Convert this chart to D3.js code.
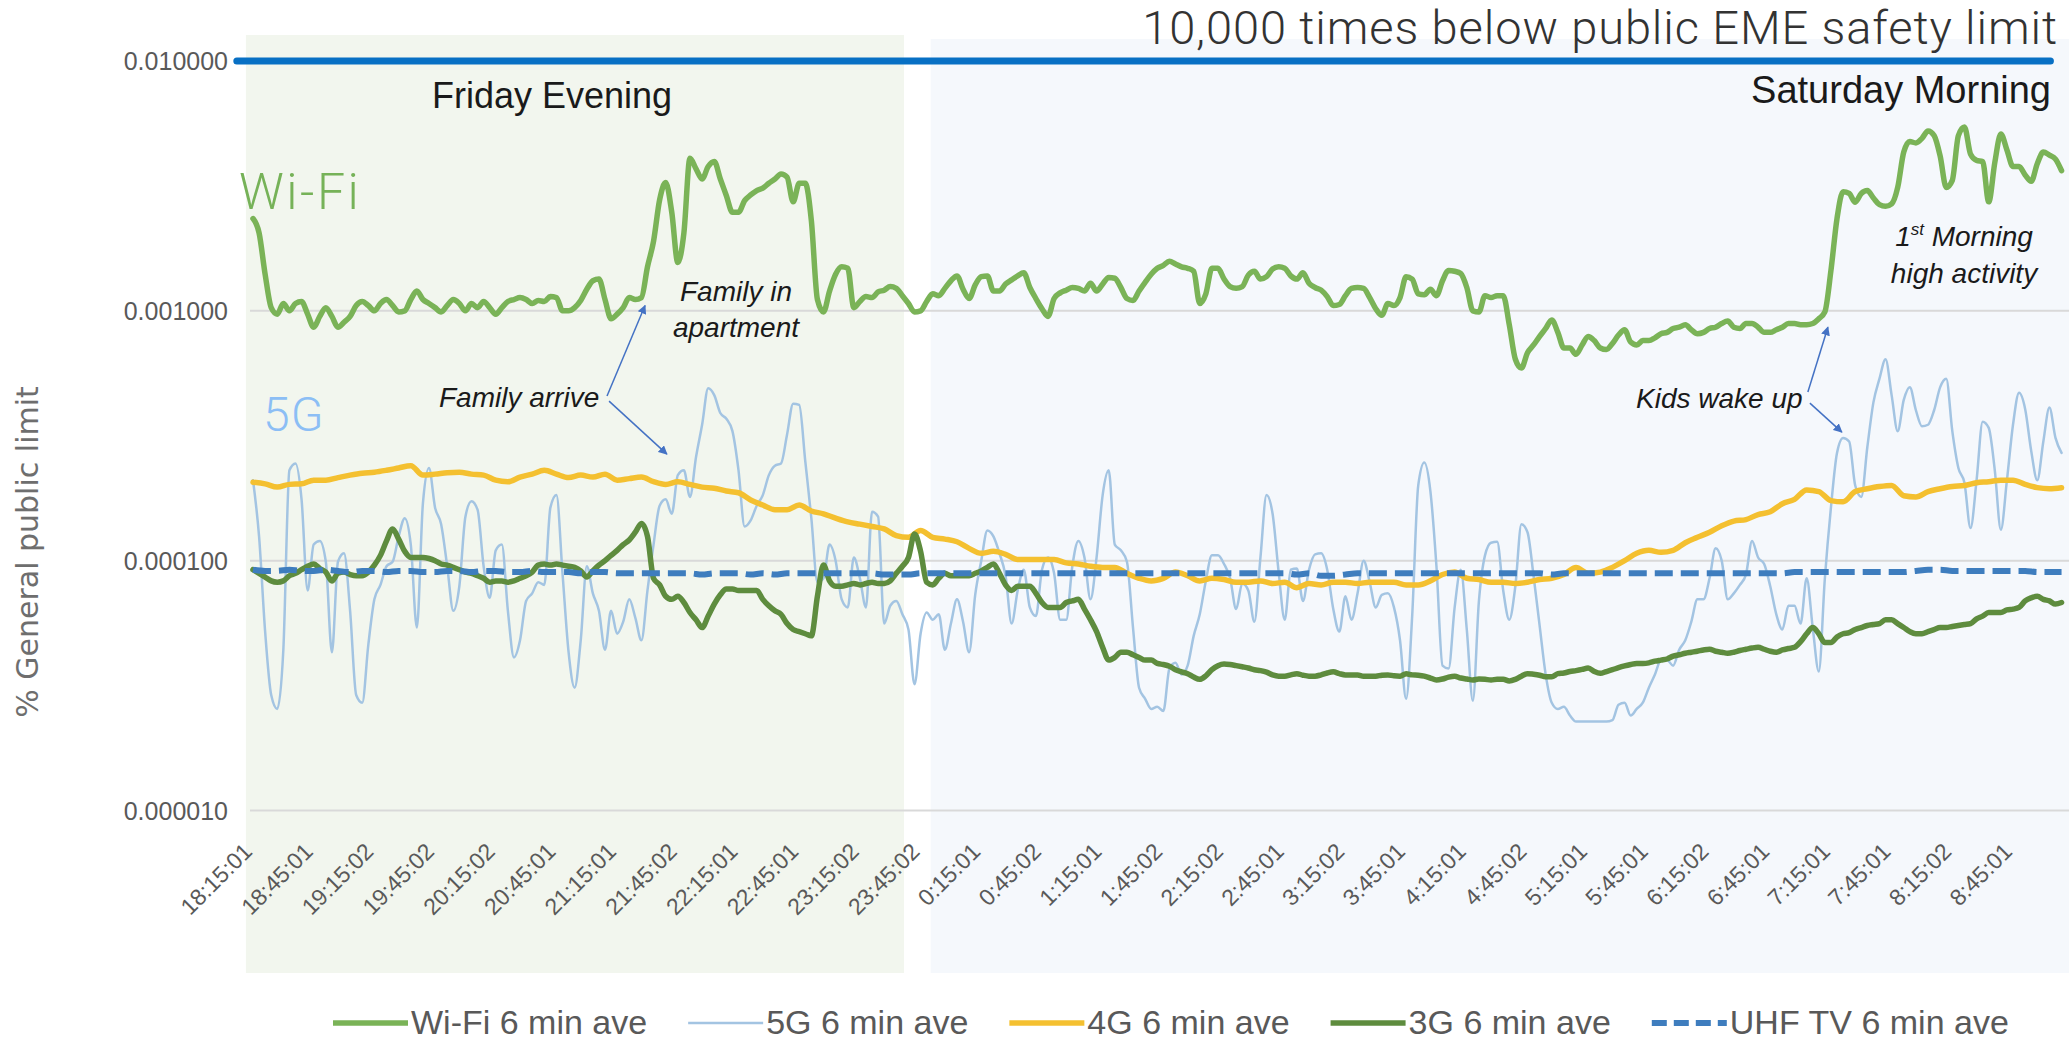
<!DOCTYPE html>
<html><head><meta charset="utf-8">
<script src="https://cdn.jsdelivr.net/npm/d3@7"></script>
<style>
html,body{margin:0;padding:0;background:#fff;}
svg{display:block;}
</style></head><body>
<svg id="chart" width="2069" height="1040"></svg>
<script>
// ---------------- DATA ----------------
// minutes after 18:15:01 between consecutive samples
const STEP_FINE = 3;
const STEP_COARSE = 6;

const xTickLabels = ["18:15:01","18:45:01","19:15:02","19:45:02","20:15:02","20:45:01","21:15:01","21:45:02",
  "22:15:01","22:45:01","23:15:02","23:45:02","0:15:01","0:45:02","1:15:01","1:45:02","2:15:02","2:45:01",
  "3:15:02","3:45:01","4:15:01","4:45:02","5:15:01","5:45:01","6:15:02","6:45:01","7:15:01","7:45:01",
  "8:15:02","8:45:01"];
const xTickMinutes = d3.range(0, 871, 30);

const yTickValues = [0.00001, 0.0001, 0.001, 0.01];
const safetyLimit = 0.01;

// Wi-Fi, % of general public limit, every 3 min
const wifi = [
 2.34e-3,2.05e-3,1.4e-3,1.03e-3,0.97e-3,1.07e-3,1.0e-3,1.07e-3,1.09e-3,0.97e-3,
 0.86e-3,0.95e-3,1.03e-3,0.95e-3,0.86e-3,0.90e-3,0.95e-3,1.05e-3,1.09e-3,1.05e-3,
 1.0e-3,1.07e-3,1.11e-3,1.05e-3,0.99e-3,1.0e-3,1.11e-3,1.2e-3,1.11e-3,1.07e-3,
 1.03e-3,0.99e-3,1.05e-3,1.11e-3,1.07e-3,1.0e-3,1.07e-3,1.03e-3,1.09e-3,1.03e-3,
 0.97e-3,1.03e-3,1.09e-3,1.11e-3,1.13e-3,1.11e-3,1.07e-3,1.1e-3,1.09e-3,
 1.14e-3,1.13e-3,1.0e-3,1.0e-3,1.03e-3,1.1e-3,1.22e-3,1.32e-3,1.34e-3,1.11e-3,
 0.93e-3,0.97e-3,1.03e-3,1.13e-3,1.11e-3,1.13e-3,1.5e-3,1.9e-3,2.78e-3,3.26e-3,
 2.48e-3,1.56e-3,2.05e-3,4.08e-3,3.7e-3,3.37e-3,3.78e-3,3.96e-3,3.37e-3,2.89e-3,
 2.48e-3,2.48e-3,2.76e-3,2.91e-3,3.03e-3,3.1e-3,3.24e-3,3.37e-3,3.53e-3,3.43e-3,
 2.73e-3,3.24e-3,3.24e-3,2.3e-3,1.11e-3,0.99e-3,1.2e-3,1.4e-3,1.5e-3,1.48e-3,
 1.03e-3,1.09e-3,1.14e-3,1.13e-3,1.19e-3,1.21e-3,1.25e-3,1.23e-3,1.15e-3,1.07e-3,
 0.99e-3,1.0e-3,1.09e-3,1.17e-3,1.15e-3,1.23e-3,1.32e-3,1.38e-3,1.22e-3,1.12e-3,
 1.27e-3,1.37e-3,1.38e-3,1.2e-3,1.2e-3,1.28e-3,1.33e-3,1.38e-3,1.42e-3,1.24e-3,
 1.12e-3,1.02e-3,0.95e-3,1.12e-3,1.18e-3,1.21e-3,1.24e-3,1.23e-3,1.2e-3,1.29e-3,
 1.2e-3,1.28e-3,1.36e-3,1.35e-3,1.24e-3,1.12e-3,1.1e-3,1.2e-3,1.3e-3,1.4e-3,
 1.48e-3,1.52e-3,1.58e-3,1.54e-3,1.5e-3,1.48e-3,1.44e-3,1.07e-3,1.17e-3,1.48e-3,
 1.48e-3,1.34e-3,1.25e-3,1.23e-3,1.25e-3,1.39e-3,1.44e-3,1.34e-3,1.37e-3,1.47e-3,
 1.5e-3,1.48e-3,1.38e-3,1.34e-3,1.42e-3,1.29e-3,1.24e-3,1.21e-3,1.14e-3,1.05e-3,
 1.06e-3,1.15e-3,1.23e-3,1.24e-3,1.23e-3,1.13e-3,1.02e-3,0.96e-3,1.07e-3,1.05e-3,
 1.13e-3,1.37e-3,1.34e-3,1.17e-3,1.16e-3,1.22e-3,1.15e-3,1.32e-3,1.45e-3,1.44e-3,
 1.41e-3,1.24e-3,1.0e-3,0.99e-3,1.15e-3,1.13e-3,1.15e-3,1.15e-3,0.88e-3,0.64e-3,
 0.59e-3,0.68e-3,0.73e-3,0.79e-3,0.85e-3,0.92e-3,0.82e-3,0.71e-3,0.71e-3,0.67e-3,
 0.73e-3,0.79e-3,0.76e-3,0.71e-3,0.70e-3,0.74e-3,0.8e-3,0.84e-3,0.75e-3,0.73e-3,
 0.76e-3,0.76e-3,0.78e-3,0.81e-3,0.82e-3,0.85e-3,0.86e-3,0.88e-3,0.84e-3,0.81e-3,
 0.82e-3,0.85e-3,0.86e-3,0.89e-3,0.91e-3,0.86e-3,0.85e-3,0.89e-3,0.89e-3,0.86e-3,
 0.82e-3,
 0.82e-3,0.84e-3,0.86e-3,0.89e-3,0.89e-3,0.88e-3,0.88e-3,0.89e-3,0.93e-3,0.99e-3,
 1.45e-3,2.34e-3,3.0e-3,2.95e-3,2.72e-3,2.95e-3,3.03e-3,2.83e-3,2.66e-3,2.62e-3,
 2.68e-3,3.12e-3,4.32e-3,4.76e-3,4.7e-3,4.9e-3,5.25e-3,5.03e-3,4.16e-3,3.12e-3,
 3.33e-3,5.03e-3,5.44e-3,4.24e-3,4.0e-3,3.96e-3,2.73e-3,3.92e-3,5.1e-3,4.4e-3,
 3.78e-3,3.78e-3,3.5e-3,3.3e-3,3.88e-3,4.32e-3,4.2e-3,4.05e-3,3.64e-3
];

// 5G, every 3 min
const g5 = [
 2.1e-4,1.25e-4,5.2e-5,2.9e-5,2.55e-5,4.4e-5,2.3e-4,2.45e-4,1.76e-4,7.6e-5,
 1.16e-4,1.2e-4,9.9e-5,4.3e-5,9.9e-5,1.07e-4,6.3e-5,2.9e-5,2.7e-5,4.6e-5,
 7.0e-5,8.0e-5,9.5e-5,9.9e-5,1.25e-4,1.48e-4,1.16e-4,5.4e-5,1.7e-4,2.35e-4,
 1.63e-4,1.4e-4,9.5e-5,6.3e-5,7.9e-5,1.5e-4,1.73e-4,1.6e-4,9.5e-5,7.1e-5,
 1.1e-4,1.16e-4,6.3e-5,4.1e-5,4.8e-5,6.9e-5,7.4e-5,8.2e-5,8.0e-5,
 1.63e-4,1.83e-4,8.9e-5,4.3e-5,3.1e-5,4.8e-5,9.5e-5,7.4e-5,6.3e-5,4.4e-5,
 6.3e-5,5.1e-5,5.7e-5,7.0e-5,5.9e-5,4.8e-5,7.6e-5,1.16e-4,1.66e-4,1.76e-4,
 1.54e-4,2.2e-4,2.3e-4,1.8e-4,2.6e-4,3.5e-4,4.9e-4,4.6e-4,3.9e-4,3.7e-4,
 3.3e-4,2.3e-4,1.37e-4,1.45e-4,1.66e-4,1.83e-4,2.2e-4,2.4e-4,2.45e-4,3.2e-4,
 4.25e-4,4.2e-4,2.5e-4,1.48e-4,8.2e-5,8.5e-5,1.16e-4,1.0e-4,7.0e-5,6.5e-5,
 1.03e-4,8.5e-5,6.5e-5,1.57e-4,1.5e-4,5.6e-5,6.6e-5,6.9e-5,6.1e-5,5.3e-5,
 3.2e-5,5.1e-5,6.2e-5,5.8e-5,6.1e-5,4.4e-5,5.6e-5,7.0e-5,5.7e-5,4.3e-5,
 7.3e-5,1.0e-4,1.32e-4,1.25e-4,1.07e-4,8.7e-5,5.6e-5,7.6e-5,9.2e-5,6.5e-5,
 6.0e-5,9.2e-5,1.03e-4,8.9e-5,5.8e-5,5.8e-5,9.5e-5,1.2e-4,1.03e-4,7.0e-5,
 1.03e-4,1.83e-4,2.3e-4,1.16e-4,1.1e-4,9.9e-5,5.4e-5,3.1e-5,2.8e-5,2.55e-5,
 2.6e-5,2.5e-5,3.7e-5,3.9e-5,3.5e-5,3.8e-5,5.0e-5,6.1e-5,8.3e-5,1.05e-4,
 1.05e-4,9.7e-5,8.5e-5,6.4e-5,8.1e-5,7.6e-5,5.7e-5,1.03e-4,1.83e-4,1.54e-4,
 9.0e-5,5.8e-5,9.2e-5,9.3e-5,6.9e-5,9.2e-5,1.06e-4,1.07e-4,9.2e-5,6.4e-5,
 5.2e-5,7.2e-5,5.8e-5,7.4e-5,1.0e-4,8.2e-5,6.5e-5,7.3e-5,7.4e-5,6.5e-5,
 4.8e-5,2.8e-5,6.0e-5,2.0e-4,2.47e-4,1.9e-4,9.5e-5,3.8e-5,3.7e-5,6.5e-5,
 9.2e-5,5.3e-5,2.75e-5,6.9e-5,1.05e-4,1.18e-4,1.19e-4,7.6e-5,5.8e-5,7.9e-5,
 1.4e-4,1.3e-4,8.7e-5,5.5e-5,3.5e-5,2.7e-5,2.55e-5,2.6e-5,2.4e-5,2.27e-5,
 2.27e-5,2.27e-5,2.27e-5,2.27e-5,2.27e-5,2.3e-5,2.65e-5,2.7e-5,2.4e-5,2.55e-5,
 2.7e-5,3.1e-5,3.5e-5,4.0e-5,4.0e-5,3.8e-5,4.4e-5,4.8e-5,5.7e-5,7.0e-5,
 7.0e-5,8.5e-5,1.12e-4,1.0e-4,7.0e-5,7.4e-5,8.0e-5,8.8e-5,1.2e-4,1.03e-4,
 9.7e-5,
 7.9e-5,6.1e-5,5.3e-5,6.6e-5,6.6e-5,5.6e-5,8.5e-5,5.4e-5,3.6e-5,8.5e-5,
 1.63e-4,2.7e-4,3.1e-4,3.0e-4,2.0e-4,1.8e-4,2.85e-4,4.3e-4,5.35e-4,6.4e-4,
 4.6e-4,3.3e-4,4.4e-4,4.95e-4,4.0e-4,3.45e-4,3.5e-4,4.0e-4,4.95e-4,5.35e-4,
 3.3e-4,2.35e-4,2.05e-4,1.35e-4,2.1e-4,3.6e-4,3.4e-4,2.3e-4,1.33e-4,2.1e-4,
 3.5e-4,4.7e-4,4.05e-4,2.75e-4,2.1e-4,3.0e-4,4.1e-4,3.1e-4,2.7e-4
];

// 4G, every 6 min
const g4 = [
 2.06e-4,2.03e-4,1.97e-4,2.02e-4,2.03e-4,2.1e-4,2.1e-4,2.15e-4,2.2e-4,2.24e-4,
 2.26e-4,2.3e-4,2.35e-4,2.4e-4,2.2e-4,2.22e-4,2.25e-4,2.26e-4,2.22e-4,2.2e-4,
 2.1e-4,2.07e-4,2.16e-4,2.22e-4,2.3e-4,
 2.22e-4,2.15e-4,2.2e-4,2.16e-4,2.22e-4,2.1e-4,2.13e-4,2.16e-4,2.07e-4,2.02e-4,
 2.07e-4,2.02e-4,1.97e-4,1.95e-4,1.9e-4,1.87e-4,1.75e-4,1.67e-4,1.6e-4,1.6e-4,
 1.67e-4,1.58e-4,1.54e-4,1.48e-4,1.43e-4,
 1.4e-4,1.37e-4,1.34e-4,1.26e-4,1.24e-4,1.32e-4,1.24e-4,1.22e-4,1.19e-4,1.12e-4,
 1.07e-4,1.09e-4,1.06e-4,1.01e-4,1.01e-4,1.01e-4,1.01e-4,9.8e-5,9.7e-5,9.5e-5,
 9.4e-5,9.4e-5,8.9e-5,8.5e-5,8.3e-5,
 8.5e-5,9.0e-5,8.7e-5,8.3e-5,8.5e-5,8.4e-5,8.2e-5,8.2e-5,8.3e-5,8.1e-5,
 8.2e-5,7.8e-5,8.1e-5,8.0e-5,8.2e-5,8.2e-5,8.1e-5,8.2e-5,8.2e-5,8.2e-5,
 8.0e-5,8.0e-5,8.3e-5,8.8e-5,9.0e-5,
 8.5e-5,8.4e-5,8.2e-5,8.2e-5,8.1e-5,8.2e-5,8.4e-5,8.5e-5,8.8e-5,9.4e-5,
 8.9e-5,9.0e-5,9.4e-5,1.0e-4,1.07e-4,1.1e-4,1.08e-4,1.1e-4,1.18e-4,1.24e-4,
 1.3e-4,1.38e-4,1.44e-4,1.46e-4,1.53e-4,
 1.57e-4,1.69e-4,1.76e-4,1.92e-4,1.89e-4,1.74e-4,1.72e-4,1.89e-4,1.94e-4,1.98e-4,
 2.0e-4,1.82e-4,1.8e-4,1.89e-4,1.94e-4,1.98e-4,2.0e-4,2.05e-4,2.07e-4,2.1e-4,
 2.1e-4,2.02e-4,1.96e-4,1.94e-4,1.96e-4
];

// 3G, every 3 min
const g3 = [
 9.2e-5,8.9e-5,8.6e-5,8.3e-5,8.2e-5,8.3e-5,8.7e-5,8.9e-5,9.2e-5,9.5e-5,
 9.7e-5,9.3e-5,9.0e-5,8.3e-5,8.9e-5,9.0e-5,8.8e-5,8.7e-5,8.7e-5,9.0e-5,
 9.6e-5,1.05e-4,1.2e-4,1.34e-4,1.22e-4,1.09e-4,1.03e-4,1.03e-4,1.03e-4,1.02e-4,
 1.0e-4,9.7e-5,9.6e-5,9.4e-5,9.2e-5,9.0e-5,8.9e-5,8.7e-5,8.5e-5,8.2e-5,
 8.3e-5,8.3e-5,8.2e-5,8.3e-5,8.5e-5,8.7e-5,9.0e-5,9.6e-5,9.7e-5,
 9.6e-5,9.7e-5,9.6e-5,9.5e-5,9.4e-5,9.1e-5,8.6e-5,9.1e-5,9.6e-5,1.0e-4,
 1.05e-4,1.1e-4,1.16e-4,1.21e-4,1.3e-4,1.41e-4,1.25e-4,8.5e-5,8.0e-5,7.2e-5,
 7.0e-5,7.2e-5,6.8e-5,6.2e-5,5.8e-5,5.4e-5,6.0e-5,6.7e-5,7.3e-5,7.7e-5,
 7.7e-5,7.6e-5,7.6e-5,7.6e-5,7.6e-5,7.0e-5,6.6e-5,6.3e-5,6.1e-5,5.6e-5,
 5.3e-5,5.2e-5,5.1e-5,5.0e-5,7.2e-5,9.6e-5,8.3e-5,7.9e-5,7.9e-5,8.0e-5,
 8.1e-5,8.0e-5,8.1e-5,8.2e-5,8.1e-5,8.1e-5,8.3e-5,8.9e-5,9.5e-5,1.03e-4,
 1.28e-4,1.09e-4,8.2e-5,8.0e-5,8.5e-5,8.9e-5,8.7e-5,8.7e-5,8.7e-5,8.7e-5,
 8.9e-5,9.1e-5,9.4e-5,9.7e-5,8.9e-5,8.0e-5,7.6e-5,7.9e-5,7.9e-5,7.9e-5,
 7.4e-5,6.8e-5,6.5e-5,6.5e-5,6.5e-5,6.8e-5,6.9e-5,7.0e-5,6.4e-5,5.8e-5,
 5.2e-5,4.5e-5,4.0e-5,4.1e-5,4.3e-5,4.3e-5,4.2e-5,4.1e-5,4.0e-5,4.0e-5,
 3.88e-5,3.84e-5,3.78e-5,3.66e-5,3.59e-5,3.53e-5,3.42e-5,3.35e-5,3.46e-5,3.66e-5,
 3.8e-5,3.86e-5,3.84e-5,3.8e-5,3.76e-5,3.72e-5,3.66e-5,3.63e-5,3.58e-5,3.49e-5,
 3.45e-5,3.45e-5,3.49e-5,3.53e-5,3.48e-5,3.45e-5,3.45e-5,3.49e-5,3.55e-5,3.59e-5,
 3.53e-5,3.49e-5,3.49e-5,3.49e-5,3.45e-5,3.45e-5,3.45e-5,3.48e-5,3.49e-5,3.46e-5,
 3.45e-5,3.53e-5,3.49e-5,3.48e-5,3.45e-5,3.39e-5,3.33e-5,3.36e-5,3.42e-5,3.45e-5,
 3.39e-5,3.36e-5,3.33e-5,3.36e-5,3.35e-5,3.33e-5,3.35e-5,3.35e-5,3.3e-5,3.35e-5,
 3.45e-5,3.53e-5,3.51e-5,3.48e-5,3.43e-5,3.43e-5,3.53e-5,3.55e-5,3.6e-5,3.63e-5,
 3.67e-5,3.72e-5,3.6e-5,3.54e-5,3.6e-5,3.66e-5,3.73e-5,3.79e-5,3.84e-5,3.88e-5,
 3.88e-5,3.9e-5,3.96e-5,4.0e-5,4.04e-5,4.15e-5,4.2e-5,4.26e-5,4.3e-5,4.34e-5,
 4.39e-5,4.42e-5,4.34e-5,4.3e-5,4.26e-5,4.3e-5,4.37e-5,4.42e-5,4.47e-5,4.5e-5,
 4.42e-5,
 4.34e-5,4.3e-5,4.39e-5,4.45e-5,4.5e-5,4.74e-5,5.1e-5,5.4e-5,5.1e-5,4.7e-5,
 4.7e-5,4.95e-5,5.1e-5,5.15e-5,5.3e-5,5.4e-5,5.5e-5,5.55e-5,5.6e-5,5.8e-5,
 5.8e-5,5.6e-5,5.4e-5,5.2e-5,5.1e-5,5.1e-5,5.2e-5,5.3e-5,5.4e-5,5.4e-5,
 5.45e-5,5.5e-5,5.55e-5,5.6e-5,5.85e-5,6.0e-5,6.2e-5,6.2e-5,6.2e-5,6.35e-5,
 6.4e-5,6.5e-5,6.9e-5,7.1e-5,7.2e-5,7.0e-5,6.9e-5,6.7e-5,6.8e-5
];

// UHF TV, every 6 min
const uhf = [
 9.2e-5,9.1e-5,9.1e-5,9.2e-5,9.1e-5,9.1e-5,9.2e-5,9.1e-5,9.0e-5,9.1e-5,
 9.1e-5,9.0e-5,9.1e-5,9.1e-5,9.0e-5,9.0e-5,9.1e-5,9.1e-5,9.0e-5,9.1e-5,
 9.1e-5,9.0e-5,9.0e-5,9.1e-5,9.0e-5,
 9.0e-5,9.0e-5,8.9e-5,9.0e-5,9.0e-5,8.9e-5,8.9e-5,8.9e-5,8.9e-5,8.9e-5,
 8.9e-5,8.9e-5,8.8e-5,8.9e-5,8.9e-5,8.9e-5,8.8e-5,8.9e-5,8.8e-5,8.9e-5,
 8.9e-5,8.9e-5,8.9e-5,8.9e-5,8.9e-5,
 8.9e-5,8.9e-5,8.8e-5,8.8e-5,8.8e-5,8.9e-5,8.9e-5,8.9e-5,8.9e-5,8.9e-5,
 8.9e-5,8.9e-5,8.9e-5,8.9e-5,8.9e-5,8.9e-5,8.9e-5,8.9e-5,8.9e-5,8.9e-5,
 8.9e-5,8.9e-5,8.9e-5,8.9e-5,8.9e-5,
 8.9e-5,8.9e-5,8.9e-5,8.9e-5,8.9e-5,8.9e-5,8.9e-5,8.9e-5,8.9e-5,8.9e-5,
 8.9e-5,8.8e-5,8.9e-5,8.7e-5,8.7e-5,8.8e-5,8.9e-5,8.9e-5,8.9e-5,8.9e-5,
 8.9e-5,8.9e-5,8.9e-5,8.9e-5,8.9e-5,
 8.9e-5,8.9e-5,8.9e-5,8.9e-5,8.9e-5,8.9e-5,8.9e-5,8.8e-5,8.9e-5,8.9e-5,
 8.9e-5,8.9e-5,8.9e-5,8.9e-5,8.9e-5,8.9e-5,8.9e-5,8.9e-5,8.9e-5,8.9e-5,
 8.9e-5,8.9e-5,8.9e-5,8.9e-5,8.9e-5,
 8.9e-5,8.9e-5,9.0e-5,9.0e-5,9.0e-5,9.0e-5,9.0e-5,9.0e-5,9.0e-5,9.0e-5,
 9.0e-5,9.0e-5,9.1e-5,9.2e-5,9.2e-5,9.1e-5,9.1e-5,9.1e-5,9.1e-5,9.1e-5,
 9.1e-5,9.1e-5,9.0e-5,9.0e-5,9.0e-5
];

const periods = [
  {name: "Friday Evening", start: -3.5, end: 321.8},
  {name: "Saturday Morning", start: 335, end: 898}
];

// annotation arrows: start/end in (minutes, value)
const arrows = [
  {t0: 175.0, v0: 4.56e-4, t1: 193.8, v1: 1.05e-3},
  {t0: 176.0, v0: 4.35e-4, t1: 204.6, v1: 2.67e-4},
  {t0: 768.6, v0: 4.73e-4, t1: 778.5, v1: 8.6e-4},
  {t0: 769.6, v0: 4.27e-4, t1: 785.4, v1: 3.27e-4}
];

// ---------------- CHART ----------------
const W = 2069, H = 1040;
const svg = d3.select("#chart");
svg.append("rect").attr("width", W).attr("height", H).attr("fill", "#fff");

const x = d3.scaleLinear().domain([0, 870]).range([253, 2013]);
const y = d3.scaleLog().domain([1e-5, 1e-2]).range([810.5, 61]);

const SANS = '"Liberation Sans", Arial, sans-serif';

// period bands
const bandStyle = [{top: 35, fill: "#f2f6ee"}, {top: 39, fill: "#f5f8fc"}];
svg.append("g").selectAll("rect").data(periods).join("rect")
  .attr("x", d => x(d.start))
  .attr("width", d => x(d.end) - x(d.start))
  .attr("y", (d, i) => bandStyle[i].top)
  .attr("height", (d, i) => 973 - bandStyle[i].top)
  .attr("fill", (d, i) => bandStyle[i].fill);

// gridlines
svg.append("g").selectAll("line").data(yTickValues.filter(v => v < safetyLimit)).join("line")
  .attr("x1", 250).attr("x2", W)
  .attr("y1", d => y(d)).attr("y2", d => y(d))
  .attr("stroke", "#d9d9d9").attr("stroke-width", 2);

// y axis
const yAxis = svg.append("g").attr("transform", "translate(228,0)")
  .call(d3.axisLeft(y).tickValues(yTickValues).tickFormat(d3.format(".6f")).tickSize(0).tickPadding(0));
yAxis.select(".domain").remove();
yAxis.selectAll("text").attr("font-family", SANS).attr("font-size", 25).attr("fill", "#595959").attr("dy", "0.35em");

// x axis
const xAxis = svg.append("g").attr("transform", "translate(0,853)")
  .call(d3.axisBottom(x).tickValues(xTickMinutes).tickFormat((d, i) => xTickLabels[i]).tickSize(0));
xAxis.select(".domain").remove();
xAxis.selectAll("text")
  .attr("font-family", SANS).attr("font-size", 23).attr("fill", "#595959")
  .attr("x", 0).attr("y", 0).attr("dy", 0)
  .attr("text-anchor", "end")
  .attr("transform", "translate(0,0) rotate(-45)");

// y title
svg.append("text")
  .attr("transform", "translate(38,552) rotate(-90)")
  .attr("text-anchor", "middle")
  .attr("font-family", '"DejaVu Sans", Verdana, sans-serif')
  .attr("font-size", 30).attr("fill", "#6e6e6e")
  .text("% General public limit");

// series
const series = [
  {name: "Wi-Fi 6 min ave", values: wifi, step: STEP_FINE, color: "#7ab357", width: 5.5},
  {name: "5G 6 min ave", values: g5, step: STEP_FINE, color: "#a3c4e2", width: 2.5},
  {name: "4G 6 min ave", values: g4, step: STEP_COARSE, color: "#f4c030", width: 5.5},
  {name: "3G 6 min ave", values: g3, step: STEP_FINE, color: "#5e8c3e", width: 5.5},
  {name: "UHF TV 6 min ave", values: uhf, step: STEP_COARSE, color: "#3e7dbe", width: 6, dash: "18,8"}
];

const lines = svg.append("g");
series.forEach(s => {
  const line = d3.line()
    .x((d, i) => x(i * s.step))
    .y(d => y(d))
    .curve(d3.curveMonotoneX);
  lines.append("path")
    .datum(s.values)
    .attr("d", line)
    .attr("fill", "none")
    .attr("stroke", s.color)
    .attr("stroke-width", s.width)
    .attr("stroke-linejoin", "round")
    .attr("stroke-linecap", s.dash ? "butt" : "round")
    .attr("stroke-dasharray", s.dash || null);
});

// safety limit line
svg.append("line")
  .attr("x1", x(-8)).attr("x2", x(888.5))
  .attr("y1", y(safetyLimit)).attr("y2", y(safetyLimit))
  .attr("stroke", "#0870c4").attr("stroke-width", 7).attr("stroke-linecap", "round");

// title
svg.append("text")
  .attr("x", 2058).attr("y", 44).attr("text-anchor", "end")
  .attr("font-family", "Roboto, sans-serif").attr("font-weight", 300)
  .attr("font-size", 47).attr("letter-spacing", 0.9).attr("fill", "#333")
  .text("10,000 times below public EME safety limit");

// period labels
svg.append("text").attr("x", 432).attr("y", 108)
  .attr("font-family", SANS).attr("font-size", 36).attr("fill", "#1a1a1a")
  .text(periods[0].name);
svg.append("text").attr("x", 2051).attr("y", 103).attr("text-anchor", "end")
  .attr("font-family", SANS).attr("font-size", 38).attr("fill", "#1a1a1a")
  .text(periods[1].name);

// series name labels
svg.append("text").attr("x", 239).attr("y", 209)
  .attr("font-family", "Roboto, sans-serif").attr("font-weight", 300)
  .attr("font-size", 50).attr("letter-spacing", 2.5).attr("fill", "#76b258")
  .text("Wi-Fi");
svg.append("text").attr("x", 263).attr("y", 431)
  .attr("font-family", "Roboto, sans-serif").attr("font-weight", 300)
  .attr("font-size", 48).attr("letter-spacing", 1).attr("fill", "#8cbef5")
  .text("5G");

// annotations
const ann = svg.append("g").attr("font-family", SANS).attr("font-style", "italic")
  .attr("font-size", 28).attr("fill", "#1a1a1a");
ann.append("text").attr("x", 736).attr("y", 301).attr("text-anchor", "middle").text("Family in");
ann.append("text").attr("x", 736).attr("y", 337).attr("text-anchor", "middle").text("apartment");
ann.append("text").attr("x", 439).attr("y", 407).text("Family arrive");
ann.append("text").attr("x", 1636).attr("y", 408).text("Kids wake up");
const m1 = ann.append("text").attr("x", 1964).attr("y", 246).attr("text-anchor", "middle");
m1.append("tspan").text("1");
m1.append("tspan").attr("font-size", 17).attr("dy", -11).text("st");
m1.append("tspan").attr("dy", 11).text(" Morning");
ann.append("text").attr("x", 1964).attr("y", 283).attr("text-anchor", "middle").text("high activity");

// arrows
svg.append("defs").append("marker")
  .attr("id", "arrowhead").attr("viewBox", "0 0 10 10")
  .attr("refX", 9).attr("refY", 5)
  .attr("markerWidth", 9).attr("markerHeight", 9)
  .attr("markerUnits", "userSpaceOnUse")
  .attr("orient", "auto")
  .append("path").attr("d", "M0,0 L10,5 L0,10 Z").attr("fill", "#4472c4");
svg.append("g").selectAll("line").data(arrows).join("line")
  .attr("x1", d => x(d.t0)).attr("y1", d => y(d.v0))
  .attr("x2", d => x(d.t1)).attr("y2", d => y(d.v1))
  .attr("stroke", "#4472c4").attr("stroke-width", 1.5)
  .attr("marker-end", "url(#arrowhead)");

// legend
const legend = svg.append("g");
let lx = 333;
series.forEach(s => {
  legend.append("line")
    .attr("x1", lx).attr("x2", lx + 75).attr("y1", 1023).attr("y2", 1023)
    .attr("stroke", s.color).attr("stroke-width", s.width)
    .attr("stroke-dasharray", s.dash ? "15,7" : null);
  const t = legend.append("text")
    .attr("x", lx + 78).attr("y", 1034)
    .attr("font-family", SANS).attr("font-size", 34).attr("fill", "#595959")
    .text(s.name);
  lx = lx + 78 + t.node().getComputedTextLength() + 41;
});
</script>
</body></html>
